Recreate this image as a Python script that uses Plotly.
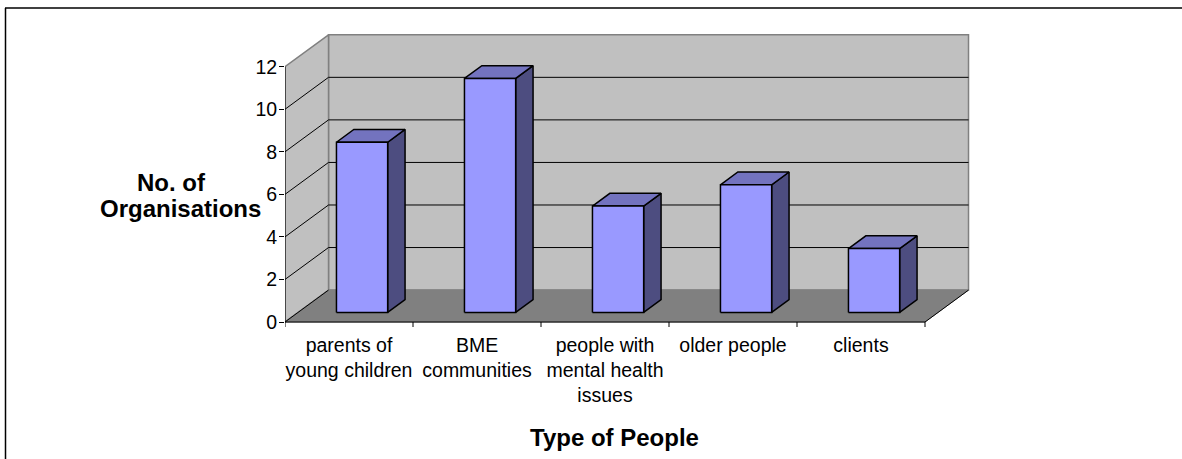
import plotly.graph_objects as go

# ---- data ----
categories = [
    "parents of<br>young children",
    "BME<br>communities",
    "people with<br>mental health<br>issues",
    "older people",
    "clients",
]
organisations = [8, 11, 5, 6, 3]
y_ticks = [0, 2, 4, 6, 8, 10, 12]
y_max = 12

# ---- 3D look: depth direction expressed in axis units ----
DX = 0.34      # depth shift along the category axis
DY = 1.5       # depth shift along the value axis
BAR_LO, BAR_HI = 0.3, 0.7   # bar extent inside a category slot (and in depth)

FONT = "Liberation Sans, Arial, sans-serif"
W, H = 1182, 459
L, R, T, B = 285, 150, 28, 131
PLOT_W = W - L - R
PLOT_H = H - T - B
PX_PER_UNIT = 21.275
Y_LO = -(H - B - 322) / PX_PER_UNIT
Y_HI = Y_LO + PLOT_H / PX_PER_UNIT
X_HI = PLOT_W / 128.0

n = len(organisations)


def shift(x, y, d):
    return x + d * DX, y + d * DY


def poly(pts, fill, line_color, width):
    xs = [p[0] for p in pts] + [pts[0][0]]
    ys = [p[1] for p in pts] + [pts[0][1]]
    return go.Scatter(x=xs, y=ys, mode="lines", fill="toself", fillcolor=fill,
                      line=dict(color=line_color, width=width),
                      hoverinfo="skip", showlegend=False)


fig = go.Figure()

# walls and floor
fig.add_trace(poly([shift(0, 0, 1), shift(n, 0, 1), shift(n, y_max, 1), shift(0, y_max, 1)],
                   "#C0C0C0", "#808080", 1.5))
fig.add_trace(poly([(0, 0), shift(0, 0, 1), shift(0, y_max, 1), (0, y_max)],
                   "#C0C0C0", "#808080", 1.5))
fig.add_trace(poly([(0, 0), (n, 0), shift(n, 0, 1), shift(0, 0, 1)],
                   "#808080", "#808080", 1))

# gridlines on back wall and side wall
gx, gy = [], []
for v in y_ticks:
    if v == y_max:
        continue
    a = shift(0, v, 1)
    b = shift(n, v, 1)
    if v > 0:
        gx += [a[0], b[0], None]
        gy += [a[1], b[1], None]
    gx += [0, a[0], None]
    gy += [v, a[1], None]
fig.add_trace(go.Scatter(x=gx, y=gy, mode="lines", line=dict(color="black", width=1),
                         hoverinfo="skip", showlegend=False))

# floor right edge, value axis line, category axis line and its ticks
ax, ay = [], []
e = shift(n, 0, 1)
ax += [n, e[0], None, 0, 0, None, 0, n, None]
ay += [0, e[1], None, 0, y_max, None, 0, 0, None]
tick_drop = -5 / PX_PER_UNIT
for i in range(n + 1):
    ax += [i, i, None]
    ay += [0, tick_drop, None]
fig.add_trace(go.Scatter(x=ax, y=ay, mode="lines", line=dict(color="black", width=1),
                         hoverinfo="skip", showlegend=False))

# bars: front, top and side faces
for i, v in enumerate(organisations):
    x0, x1 = i + BAR_LO, i + BAR_HI
    fbl = shift(x0, 0, BAR_LO)
    fbr = shift(x1, 0, BAR_LO)
    ftr = shift(x1, v, BAR_LO)
    ftl = shift(x0, v, BAR_LO)
    bbr = shift(x1, 0, BAR_HI)
    btr = shift(x1, v, BAR_HI)
    btl = shift(x0, v, BAR_HI)
    fig.add_trace(poly([fbr, bbr, btr, ftr], "#4D4D80", "black", 1.5))
    fig.add_trace(poly([ftl, ftr, btr, btl], "#7373BF", "black", 1.5))
    fig.add_trace(poly([fbl, fbr, ftr, ftl], "#9999FF", "black", 1.5))


def px_x(px):
    return (px - L) / PLOT_W


def px_y(py):
    return (H - B - py) / PLOT_H


fig.update_layout(
    width=W, height=H,
    margin=dict(l=L, r=R, t=T, b=B, pad=0),
    paper_bgcolor="white", plot_bgcolor="rgba(0,0,0,0)",
    showlegend=False,
    font=dict(family=FONT, size=19.5, color="black"),
    xaxis=dict(range=[0, X_HI], showgrid=False, zeroline=False, showline=False,
               tickmode="array", tickvals=[i + 0.5 for i in range(n)], ticktext=categories,
               ticks="", ticklabelstandoff=3,
               tickfont=dict(family=FONT, size=19.5, color="black"),
               fixedrange=True),
    yaxis=dict(range=[Y_LO, Y_HI], showgrid=False, zeroline=False, showline=False,
               tickmode="array", tickvals=y_ticks, ticktext=[str(t) for t in y_ticks],
               ticks="outside", ticklen=5, tickcolor="black", tickwidth=1,
               ticklabelstandoff=-2,
               tickfont=dict(family=FONT, size=19.5, color="black"),
               fixedrange=True),
    annotations=[
        dict(text="<b>No. of</b>", xref="paper", yref="paper", x=px_x(171), y=px_y(183),
             showarrow=False, xanchor="center", yanchor="middle",
             font=dict(family=FONT, size=24, color="black")),
        dict(text="<b>Organisations</b>", xref="paper", yref="paper", x=px_x(180), y=px_y(209),
             showarrow=False, xanchor="center", yanchor="middle",
             font=dict(family=FONT, size=24, color="black")),
        dict(text="<b>Type of People</b>", xref="paper", yref="paper", x=px_x(614), y=px_y(437),
             showarrow=False, xanchor="center", yanchor="middle",
             font=dict(family=FONT, size=24, color="black")),
    ],
    shapes=[
        dict(type="line", xref="paper", yref="paper", x0=px_x(5.5), x1=px_x(5.5),
             y0=px_y(8), y1=px_y(470), line=dict(color="black", width=1.5)),
        dict(type="line", xref="paper", yref="paper", x0=px_x(5), x1=px_x(1190),
             y0=px_y(8), y1=px_y(8), line=dict(color="black", width=1.5)),
    ],
)

fig.write_html("out.html")
